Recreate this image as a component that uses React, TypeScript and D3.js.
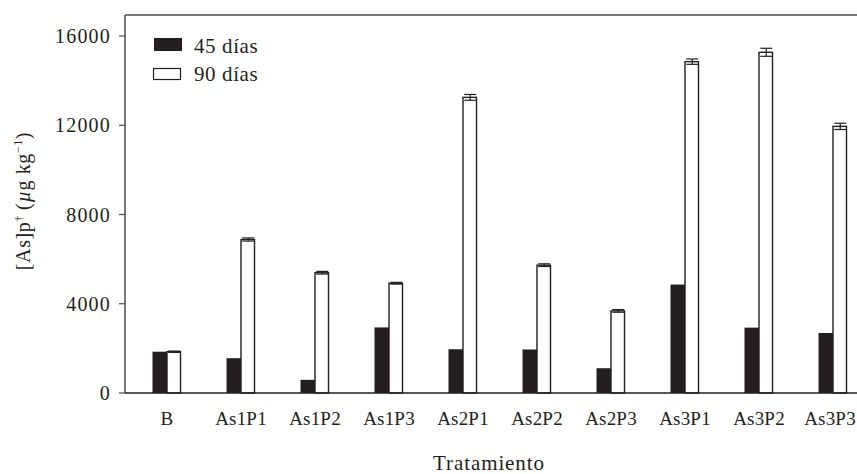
import React from 'react';
import * as d3 from 'd3';

// treatments and mean values
const categories = ['B', 'As1P1', 'As1P2', 'As1P3', 'As2P1', 'As2P2', 'As2P3', 'As3P1', 'As3P2', 'As3P3'];
const series = ['45 días', '90 días'];
const values45 = [1850, 1560, 590, 2940, 1960, 1950, 1110, 4860, 2930, 2690];
const values90 = [1850, 6880, 5390, 4920, 13250, 5730, 3680, 14850, 15270, 11950];
const errors90 = [30, 70, 60, 40, 130, 60, 60, 120, 180, 140];
const yTicks = [0, 4000, 8000, 12000, 16000];

const W = 857;
const H = 474;
const ink = '#231f20';
const font = '"Liberation Serif", "DejaVu Serif", serif';

export default function App() {
  const left = 125;
  const top = 15;
  const bottom = 393;

  const y = d3.scaleLinear().domain([0, 16000]).range([bottom, 36]);
  const x = d3.scaleBand<string>().domain(categories).range([130, 870]).padding(0);
  const sub = d3.scaleBand<string>().domain(series).range([22.5, 51.5]).padding(0);
  const bw = sub.bandwidth();
  const cap = 6;

  return (
    <svg width={W} height={H} style={{ position: 'absolute', left: 0, top: 0, background: '#fff' }}
      fontFamily={font}>
      {/* frame */}
      <line x1={left} x2={W} y1={top} y2={top} stroke="#4d4d4d" strokeWidth={1.5} />
      <line x1={left} x2={left} y1={top} y2={bottom} stroke="#4d4d4d" strokeWidth={1.5} />

      {/* bars 45 días */}
      {categories.map((c, i) => (
        <rect key={'a' + c} x={(x(c) ?? 0) + (sub(series[0]) ?? 0)} y={y(values45[i])}
          width={bw} height={bottom - y(values45[i])} fill={ink} />
      ))}

      {/* bars 90 días with error bars */}
      {categories.map((c, i) => {
        const bx = (x(c) ?? 0) + (sub(series[1]) ?? 0);
        const cx = bx + bw / 2;
        const v = values90[i];
        const e = errors90[i];
        return (
          <g key={'b' + c}>
            <rect x={bx} y={y(v)} width={bw - 1} height={bottom - y(v)} fill="#fff" stroke={ink} strokeWidth={1.4} />
            <line x1={cx} x2={cx} y1={y(v + e)} y2={y(v - e)} stroke={ink} strokeWidth={1.2} />
            <line x1={cx - cap} x2={cx + cap} y1={y(v + e)} y2={y(v + e)} stroke={ink} strokeWidth={1.2} />
            <line x1={cx - cap} x2={cx + cap} y1={y(v - e)} y2={y(v - e)} stroke={ink} strokeWidth={1.2} />
          </g>
        );
      })}

      <line x1={left} x2={W} y1={bottom} y2={bottom} stroke={ink} strokeWidth={1.5} />

      {/* y ticks */}
      {yTicks.map(t => (
        <g key={t} transform={`translate(${left},${y(t)})`}>
          <line x1={-6} x2={0} stroke="#4d4d4d" strokeWidth={1.2} />
          <text x={-14} dy="0.35em" textAnchor="end" fontSize={20} letterSpacing={1.2} fill={ink}>{t}</text>
        </g>
      ))}

      {/* category labels, last one kept inside the frame as in the source */}
      {categories.map(c => (
        <text key={'l' + c} x={Math.min((x(c) ?? 0) + x.bandwidth() / 2, W - 27)} y={425} textAnchor="middle"
          fontSize={19} letterSpacing={0.2} fill={ink}>{c}</text>
      ))}

      {/* axis titles */}
      <text x={489} y={470} textAnchor="middle" fontSize={21} letterSpacing={0.9} fill={ink}>Tratamiento</text>
      <text transform="translate(30,201) rotate(-90)" textAnchor="middle" fontSize={20} letterSpacing={0.6} fill={ink}>
        [As]p<tspan dy={-8} fontSize={11}>†</tspan>
        <tspan dy={8}> (</tspan>
        <tspan fontStyle="italic">µ</tspan>g kg
        <tspan dy={-8} fontSize={12}>−1</tspan>
        <tspan dy={8}>)</tspan>
      </text>

      {/* legend */}
      <rect x={154} y={38} width={28} height={13} fill={ink} />
      <text x={194} y={53} fontSize={21} letterSpacing={0.6} fill={ink}>{series[0]}</text>
      <rect x={153.5} y={68.5} width={27} height={11} fill="#fff" stroke={ink} strokeWidth={1.2} />
      <text x={194} y={81} fontSize={21} letterSpacing={0.6} fill={ink}>{series[1]}</text>
    </svg>
  );
}
